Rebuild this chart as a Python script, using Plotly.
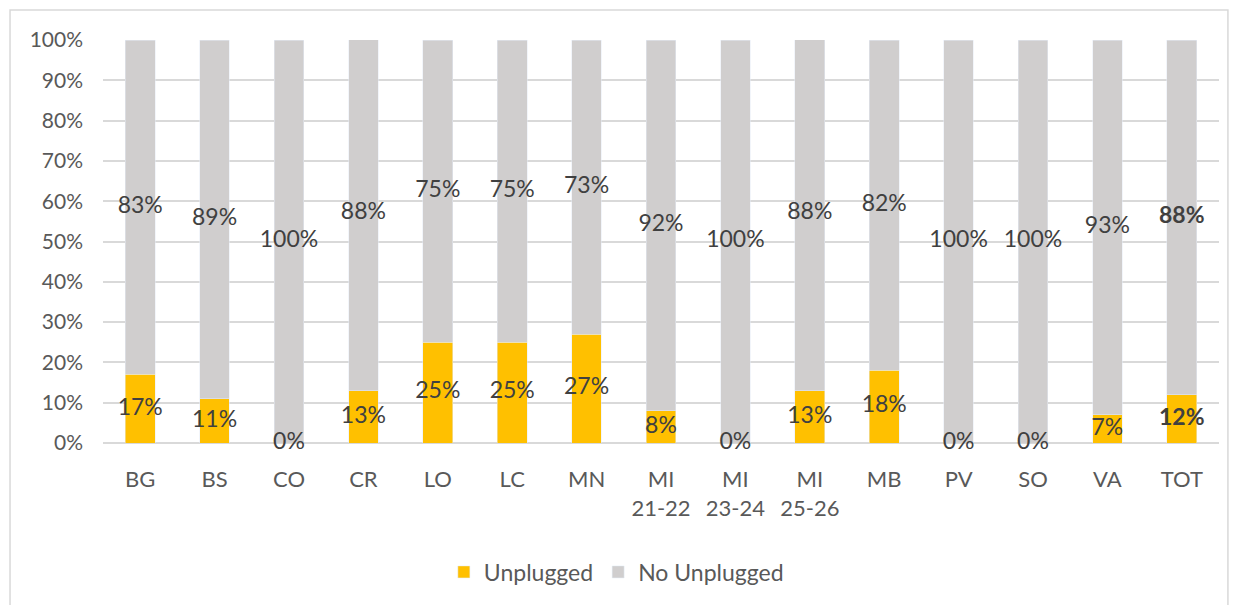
import plotly.graph_objects as go

categories = ["BG", "BS", "CO", "CR", "LO", "LC", "MN", "MI<br>21-22", "MI<br>23-24",
              "MI<br>25-26", "MB", "PV", "SO", "VA", "TOT"]
unplugged = [17, 11, 0, 13, 25, 25, 27, 8, 0, 13, 18, 0, 0, 7, 12]
no_unplugged = [83, 89, 100, 88, 75, 75, 73, 92, 100, 88, 82, 100, 100, 93, 88]

YELLOW = "#FFC000"
GRAY = "#D0CECE"
FONT = "Lato"

fig = go.Figure()
fig.add_trace(go.Bar(x=categories, y=unplugged, name="Unplugged", marker_color=YELLOW))
fig.add_trace(go.Bar(x=categories, y=no_unplugged, name="No Unplugged", marker_color=GRAY))

def lab(v, c):
    t = f"{v}%"
    return f"<b>{t}</b>" if c == "TOT" else t

fig.add_trace(go.Scatter(
    x=categories, y=[u / 2 for u in unplugged], mode="text",
    text=[lab(u, c) for u, c in zip(unplugged, categories)],
    textfont=dict(family=FONT, size=23, color="#404040"),
    showlegend=False, hoverinfo="skip", cliponaxis=False))
fig.add_trace(go.Scatter(
    x=categories, y=[u + n / 2 for u, n in zip(unplugged, no_unplugged)], mode="text",
    text=[lab(n, c) for n, c in zip(no_unplugged, categories)],
    textfont=dict(family=FONT, size=23, color="#404040"),
    showlegend=False, hoverinfo="skip", cliponaxis=False))

fig.update_layout(
    barmode="stack", bargap=0.6,
    width=1230, height=597,
    margin=dict(l=95, r=19, t=32, b=162),
    paper_bgcolor="white", plot_bgcolor="white",
    font=dict(family=FONT, color="#595959", size=20),
    legend=dict(orientation="h", x=0.46, xanchor="center", y=-0.32, yanchor="middle",
                font=dict(size=23, color="#595959"), itemwidth=30, traceorder="normal"),
    shapes=[dict(type="rect", xref="paper", yref="paper", x0=-0.0833, x1=1.008,
                 y0=-0.46, y1=1.0744, line=dict(color="#D9D9D9", width=1.5), layer="below")],
)
fig.update_yaxes(range=[0, 100], dtick=10, ticksuffix="%", showgrid=True,
                 gridcolor="#D9D9D9", gridwidth=1.5, zeroline=True, zerolinecolor="#D9D9D9",
                 zerolinewidth=1.5, ticklabelstandoff=19, tickfont=dict(size=21, color="#595959"))
fig.update_xaxes(range=[-0.5, len(categories) - 0.5], showgrid=False, showline=False,
                 ticklabelstandoff=21, tickfont=dict(size=22, color="#595959"))

fig.write_html("out.html")
